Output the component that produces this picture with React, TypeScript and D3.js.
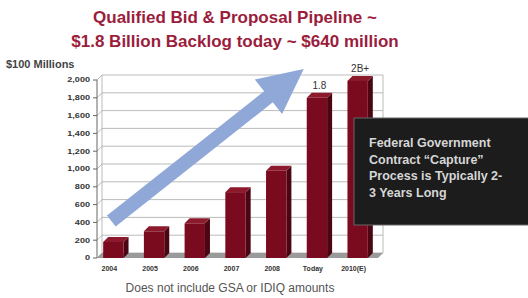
import * as d3 from "d3";

const categories = ["2004", "2005", "2006", "2007", "2008", "Today", "2010(E)"];
const values = [180, 300, 390, 740, 980, 1800, 1990];
const barLabels = ["", "", "", "", "", "1.8", "2B+"];
const yTicks = [0, 200, 400, 600, 800, 1000, 1200, 1400, 1600, 1800, 2000];
const titleLines = ["Qualified Bid & Proposal Pipeline ~", "$1.8 Billion Backlog today ~ $640 million"];
const boxLines = ["Federal Government", "Contract \u201cCapture\u201d", "Process is Typically 2-", "3 Years Long"];
// arrow annotation: from / to, in chart units
const arrowFrom = { cat: "2004", value: 415 };
const arrowTo = { cat: "Today", value: 2125 };

export default function App() {
  const width = 528;
  const height = 298;
  const depth = 5;

  const x = d3.scaleBand().domain(categories).range([93, 378]).paddingInner(0.5).paddingOuter(0.25);
  const y = d3.scaleLinear().domain([0, 2000]).range([258, 80]);
  const axisX = 97;
  const wallRight = 383;
  const bw = x.bandwidth();

  // arrow geometry
  const tx = x(arrowFrom.cat) + bw * 0.4;
  const ty = y(arrowFrom.value);
  const hx = x(arrowTo.cat) - 3;
  const hy = y(arrowTo.value);
  const len = Math.hypot(hx - tx, hy - ty);
  const ang = (Math.atan2(hy - ty, hx - tx) * 180) / Math.PI;
  const sw = 7, hl = 45, hw = 22;
  const arrowPath = `M0,${-sw} L${len - hl},${-sw} L${len - hl},${-hw} L${len},0 L${len - hl},${hw} L${len - hl},${sw} L0,${sw} Z`;

  return (
    <svg width={width} height={height} style={{ position: "absolute", left: 0, top: 0, background: "#fff" }}
      fontFamily="'Liberation Sans', Arial, sans-serif">
      {/* title */}
      {titleLines.map((t, i) => (
        <text key={i} x={235} y={23 + i * 24} textAnchor="middle" fontSize={17} fontWeight="bold" fill="#9b1d3c">
          {t}
        </text>
      ))}
      <text x={6} y={68} fontSize={11} fontWeight="bold" fill="#444">$100 Millions</text>

      {/* back wall + gridlines */}
      {yTicks.map((t) => (
        <g key={t}>
          <line x1={axisX + depth} x2={wallRight} y1={y(t) - depth} y2={y(t) - depth} stroke="#aaa" strokeWidth={0.8} />
          <line x1={axisX} x2={axisX + depth} y1={y(t)} y2={y(t) - depth} stroke="#aaa" strokeWidth={0.8} />
          <line x1={axisX - 4} x2={axisX} y1={y(t)} y2={y(t)} stroke="#666" />
          <text x={90} y={y(t) + 2.5} textAnchor="end" fontSize={7} fontWeight="bold" fill="#333"
            transform={`translate(90,0) scale(1.3,1) translate(-90,0)`}>
            {d3.format(",")(t)}
          </text>
        </g>
      ))}
      <line x1={axisX + depth} x2={axisX + depth} y1={y(0) - depth} y2={y(2000) - depth} stroke="#aaa" strokeWidth={0.8} />
      <line x1={wallRight} x2={wallRight} y1={y(0) - depth} y2={y(2000) - depth} stroke="#aaa" strokeWidth={0.8} />
      <line x1={axisX} x2={axisX} y1={y(0)} y2={y(2000)} stroke="#666" />

      {/* floor */}
      <polygon points={`${axisX},${y(0)} ${wallRight - depth},${y(0)} ${wallRight},${y(0) - depth} ${axisX + depth},${y(0) - depth}`}
        fill="#9a9a9a" />

      {/* bars */}
      {categories.map((c, i) => {
        const x0 = x(c);
        const y0 = y(values[i]);
        const yb = y(0);
        return (
          <g key={c}>
            <polygon points={`${x0 + bw},${y0} ${x0 + bw + depth},${y0 - depth} ${x0 + bw + depth},${yb - depth} ${x0 + bw},${yb}`} fill="#4a0612" />
            <polygon points={`${x0},${y0} ${x0 + depth},${y0 - depth} ${x0 + bw + depth},${y0 - depth} ${x0 + bw},${y0}`} fill="#8c1a2c" />
            <rect x={x0} y={y0} width={bw} height={yb - y0} fill="#7a0b1f" />
            {barLabels[i] && (
              <text x={x0 + (bw + depth) / 2} y={y0 - depth - 4} textAnchor="middle" fontSize={10} fill="#333">
                {barLabels[i]}
              </text>
            )}
            <text x={x0 + bw / 2 - 4} y={271} textAnchor="middle" fontSize={7} fontWeight="bold" fill="#333">
              {c}
            </text>
          </g>
        );
      })}

      {/* black note box */}
      <rect x={354} y={118} width={180} height={107} fill="#1c1c1c" stroke="#666" strokeWidth={1} />
      {boxLines.map((t, i) => (
        <text key={i} x={369} y={147 + i * 16.7} fontSize={12.5} fontWeight="bold" fill="#d6d6d6">{t}</text>
      ))}

      {/* arrow */}
      <path d={arrowPath} transform={`translate(${tx},${ty}) rotate(${ang})`} fill="#8fa8d8" />

      <text x={230} y={292} textAnchor="middle" fontSize={12} fill="#555">Does not include GSA or IDIQ amounts</text>
    </svg>
  );
}
